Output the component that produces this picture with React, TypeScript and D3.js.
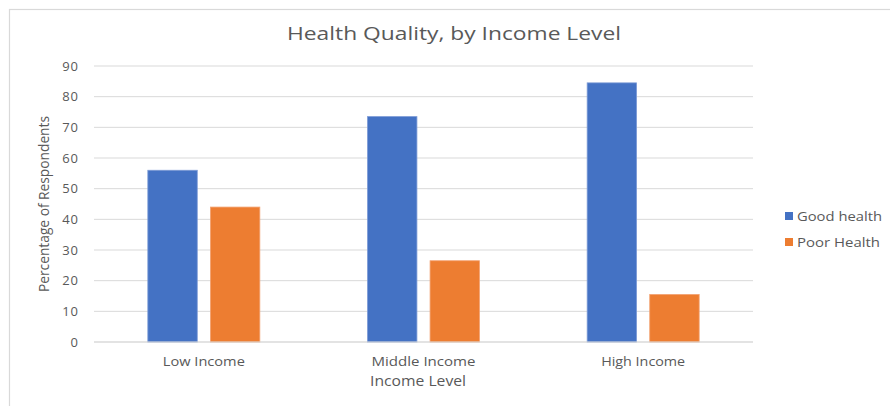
import React from "react";
import * as d3 from "d3";

const categories = ["Low Income", "Middle Income", "High Income"];
const seriesNames = ["Good health", "Poor Health"];
const goodHealth = [56, 73.5, 84.5];
const poorHealth = [44, 26.5, 15.5];
const yTicks = [0, 10, 20, 30, 40, 50, 60, 70, 80, 90];
const seriesColors = ["#4472C4", "#ED7D31"];

const W = 890;
const H = 406;
const plot = { left: 94, right: 753, top: 66, bottom: 342 };
const FONT = "'Open Sans', 'Noto Sans', sans-serif";
const TEXT = "#595959";

export default function App() {
  const x = d3.scaleBand<string>().domain(categories).range([plot.left, plot.right]).padding(0);
  const groupW = 112;
  const inner = d3.scaleBand<string>().domain(seriesNames).range([0, groupW]).paddingInner(0.21).paddingOuter(0);
  const y = d3.scaleLinear().domain([0, 90]).range([plot.bottom, plot.top]);
  const values = [goodHealth, poorHealth];

  return (
    <svg width={W} height={H} style={{ position: "absolute", left: 0, top: 0, background: "#fff" }}>
      <rect x={0} y={0} width={W} height={H} fill="#fff" />
      {/* chart area frame */}
      <rect x={9.5} y={9.5} width={W + 20} height={H + 20} fill="#fff" stroke="#d9d9d9" strokeWidth={1.2} />

      <text x={454} y={40} textAnchor="middle" fontFamily={FONT} fontSize={19} fill={TEXT} textLength={334} lengthAdjust="spacingAndGlyphs">
        Health Quality, by Income Level
      </text>

      {/* gridlines and y ticks */}
      {yTicks.map((t) => (
        <g key={t}>
          <line x1={plot.left} x2={plot.right} y1={y(t)} y2={y(t)} stroke="#d9d9d9" strokeWidth={1} />
          <text x={79} y={y(t) + 4.5} textAnchor="end" fontFamily={FONT} fontSize={13} fill={TEXT} letterSpacing={1}>
            {t}
          </text>
        </g>
      ))}

      {/* bars */}
      {categories.map((c, i) => {
        const gx = (x(c) as number) + (x.bandwidth() - groupW) / 2;
        return seriesNames.map((s, j) => {
          const v = values[j][i];
          return (
            <rect
              key={c + s}
              x={gx + (inner(s) as number)}
              y={y(v)}
              width={inner.bandwidth()}
              height={y(0) - y(v)}
              fill={seriesColors[j]}
              stroke={j === 0 ? "#7d9bd6" : "#f3a272"}
              strokeWidth={0.8}
            />
          );
        });
      })}

      <line x1={plot.left} x2={plot.right} y1={y(0)} y2={y(0)} stroke="#d9d9d9" strokeWidth={1.2} />

      {/* category labels */}
      {categories.map((c, i) => (
        <text
          key={c}
          x={(x(c) as number) + x.bandwidth() / 2}
          y={366}
          textAnchor="middle"
          fontFamily={FONT}
          fontSize={12.5}
          fill={TEXT}
          textLength={[82, 104, 84][i]}
          lengthAdjust="spacingAndGlyphs"
        >
          {c}
        </text>
      ))}

      <text x={418} y={386} textAnchor="middle" fontFamily={FONT} fontSize={14} fill={TEXT} textLength={96} lengthAdjust="spacingAndGlyphs">
        Income Level
      </text>

      <text
        transform={`translate(49, ${(plot.top + plot.bottom) / 2}) rotate(-90)`}
        textAnchor="middle"
        fontFamily={FONT}
        fontSize={15}
        fill={TEXT}
        textLength={176}
        lengthAdjust="spacingAndGlyphs"
      >
        Percentage of Respondents
      </text>

      {/* legend */}
      {seriesNames.map((s, j) => (
        <g key={s} transform={`translate(785, ${212 + j * 26})`}>
          <rect x={0} y={0} width={8} height={8} fill={seriesColors[j]} />
          <text x={12} y={8.5} fontFamily={FONT} fontSize={13} fill={TEXT} textLength={[85, 83][j]} lengthAdjust="spacingAndGlyphs">
            {s}
          </text>
        </g>
      ))}
    </svg>
  );
}
